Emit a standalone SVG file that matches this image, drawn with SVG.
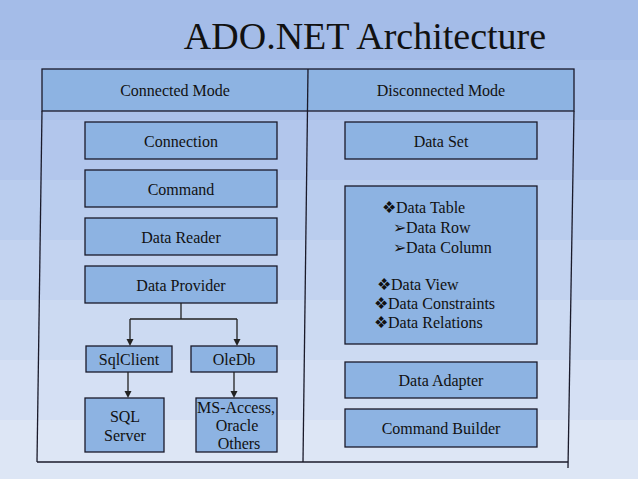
<svg xmlns="http://www.w3.org/2000/svg" width="638" height="479" viewBox="0 0 638 479">
<style>
.box{fill:#8db3e2;stroke:#1a1a2a;stroke-width:1.3}
.frame{fill:none;stroke:#1a1a2a;stroke-width:1.3}
.c{fill:none;stroke:#222;stroke-width:1.3}
.ah{fill:#222}
</style>
<g id="background">
<rect x="0" y="0" width="638" height="60" fill="#a4bce8"/>
<rect x="0" y="60" width="638" height="60" fill="#aac1ea"/>
<rect x="0" y="120" width="638" height="60" fill="#b2c6ec"/>
<rect x="0" y="180" width="638" height="60" fill="#bacdee"/>
<rect x="0" y="240" width="638" height="60" fill="#c3d3f0"/>
<rect x="0" y="300" width="638" height="60" fill="#ccdaf2"/>
<rect x="0" y="360" width="638" height="60" fill="#d5e0f4"/>
<rect x="0" y="420" width="638" height="59" fill="#dde6f5"/>
</g>
<text x="365" y="49" font-family="Liberation Serif" font-size="38" fill="#111" text-anchor="middle">ADO.NET Architecture</text>
<g id="frame">
<rect x="42" y="69" width="532" height="42" class="box"/>
<line x1="308" y1="69" x2="303" y2="462" class="frame"/>
<line x1="42" y1="111" x2="37" y2="462" class="frame"/>
<line x1="574" y1="111" x2="568" y2="468" class="frame"/>
<line x1="37" y1="462" x2="568" y2="462" class="frame"/>
<text x="175" y="96" font-family="Liberation Serif" font-size="16" fill="#111" text-anchor="middle">Connected Mode</text>
<text x="441" y="96" font-family="Liberation Serif" font-size="16" fill="#111" text-anchor="middle">Disconnected Mode</text>
</g>
<g id="connection"><rect x="85" y="122" width="192" height="37" class="box"/><text x="181" y="147" font-family="Liberation Serif" font-size="16" fill="#111" text-anchor="middle">Connection</text></g>
<g id="command"><rect x="85" y="170" width="192" height="37" class="box"/><text x="181" y="195" font-family="Liberation Serif" font-size="16" fill="#111" text-anchor="middle">Command</text></g>
<g id="datareader"><rect x="85" y="218" width="192" height="37" class="box"/><text x="181" y="243" font-family="Liberation Serif" font-size="16" fill="#111" text-anchor="middle">Data Reader</text></g>
<g id="dataprovider"><rect x="85" y="266" width="192" height="37" class="box"/><text x="181" y="291" font-family="Liberation Serif" font-size="16" fill="#111" text-anchor="middle">Data Provider</text></g>
<g id="sqlclient"><rect x="86" y="346" width="86" height="26" class="box"/><text x="129" y="365" font-family="Liberation Serif" font-size="16" fill="#111" text-anchor="middle">SqlClient</text></g>
<g id="oledb"><rect x="191" y="346" width="86" height="26" class="box"/><text x="234" y="365" font-family="Liberation Serif" font-size="16" fill="#111" text-anchor="middle">OleDb</text></g>
<g id="sqlserver"><rect x="85" y="398" width="79" height="54" class="box"/><text x="125" y="422" font-family="Liberation Serif" font-size="16" fill="#111" text-anchor="middle">SQL</text><text x="125" y="441" font-family="Liberation Serif" font-size="16" fill="#111" text-anchor="middle">Server</text></g>
<g id="msaccess"><rect x="196" y="398" width="81" height="54" class="box"/><text x="236" y="413" font-family="Liberation Serif" font-size="16" fill="#111" text-anchor="middle">MS-Access,</text><text x="237" y="431" font-family="Liberation Serif" font-size="16" fill="#111" text-anchor="middle">Oracle</text><text x="239" y="449" font-family="Liberation Serif" font-size="16" fill="#111" text-anchor="middle">Others</text></g>
<g id="dataset"><rect x="345" y="122" width="192" height="37" class="box"/><text x="441" y="147" font-family="Liberation Serif" font-size="16" fill="#111" text-anchor="middle">Data Set</text></g>
<g id="datatable"><rect x="345" y="186" width="192" height="158" class="box"/>
<text x="382" y="213" font-family="Liberation Serif" font-size="16" fill="#111">❖Data Table</text>
<text x="393" y="233" font-family="Liberation Serif" font-size="16" fill="#111">➢Data Row</text>
<text x="393" y="253" font-family="Liberation Serif" font-size="16" fill="#111">➢Data Column</text>
<text x="377" y="290" font-family="Liberation Serif" font-size="16" fill="#111">❖Data View</text>
<text x="374" y="309" font-family="Liberation Serif" font-size="16" fill="#111">❖Data Constraints</text>
<text x="374" y="328" font-family="Liberation Serif" font-size="16" fill="#111">❖Data Relations</text>
</g>
<g id="dataadapter"><rect x="345" y="362" width="192" height="36" class="box"/><text x="441" y="386" font-family="Liberation Serif" font-size="16" fill="#111" text-anchor="middle">Data Adapter</text></g>
<g id="commandbuilder"><rect x="345" y="409" width="192" height="38" class="box"/><text x="441" y="434" font-family="Liberation Serif" font-size="16" fill="#111" text-anchor="middle">Command Builder</text></g>
<g id="connectors">
<path d="M181,303 V319 M130,319 H237 M130,319 V340 M237,319 V340 M128,372 V392 M234,372 V392" class="c"/>
<path d="M126.5,339 L133.5,339 L130,346 Z" class="ah"/>
<path d="M233.5,339 L240.5,339 L237,346 Z" class="ah"/>
<path d="M124.5,391 L131.5,391 L128,398 Z" class="ah"/>
<path d="M230.5,391 L237.5,391 L234,398 Z" class="ah"/>
</g>
</svg>
